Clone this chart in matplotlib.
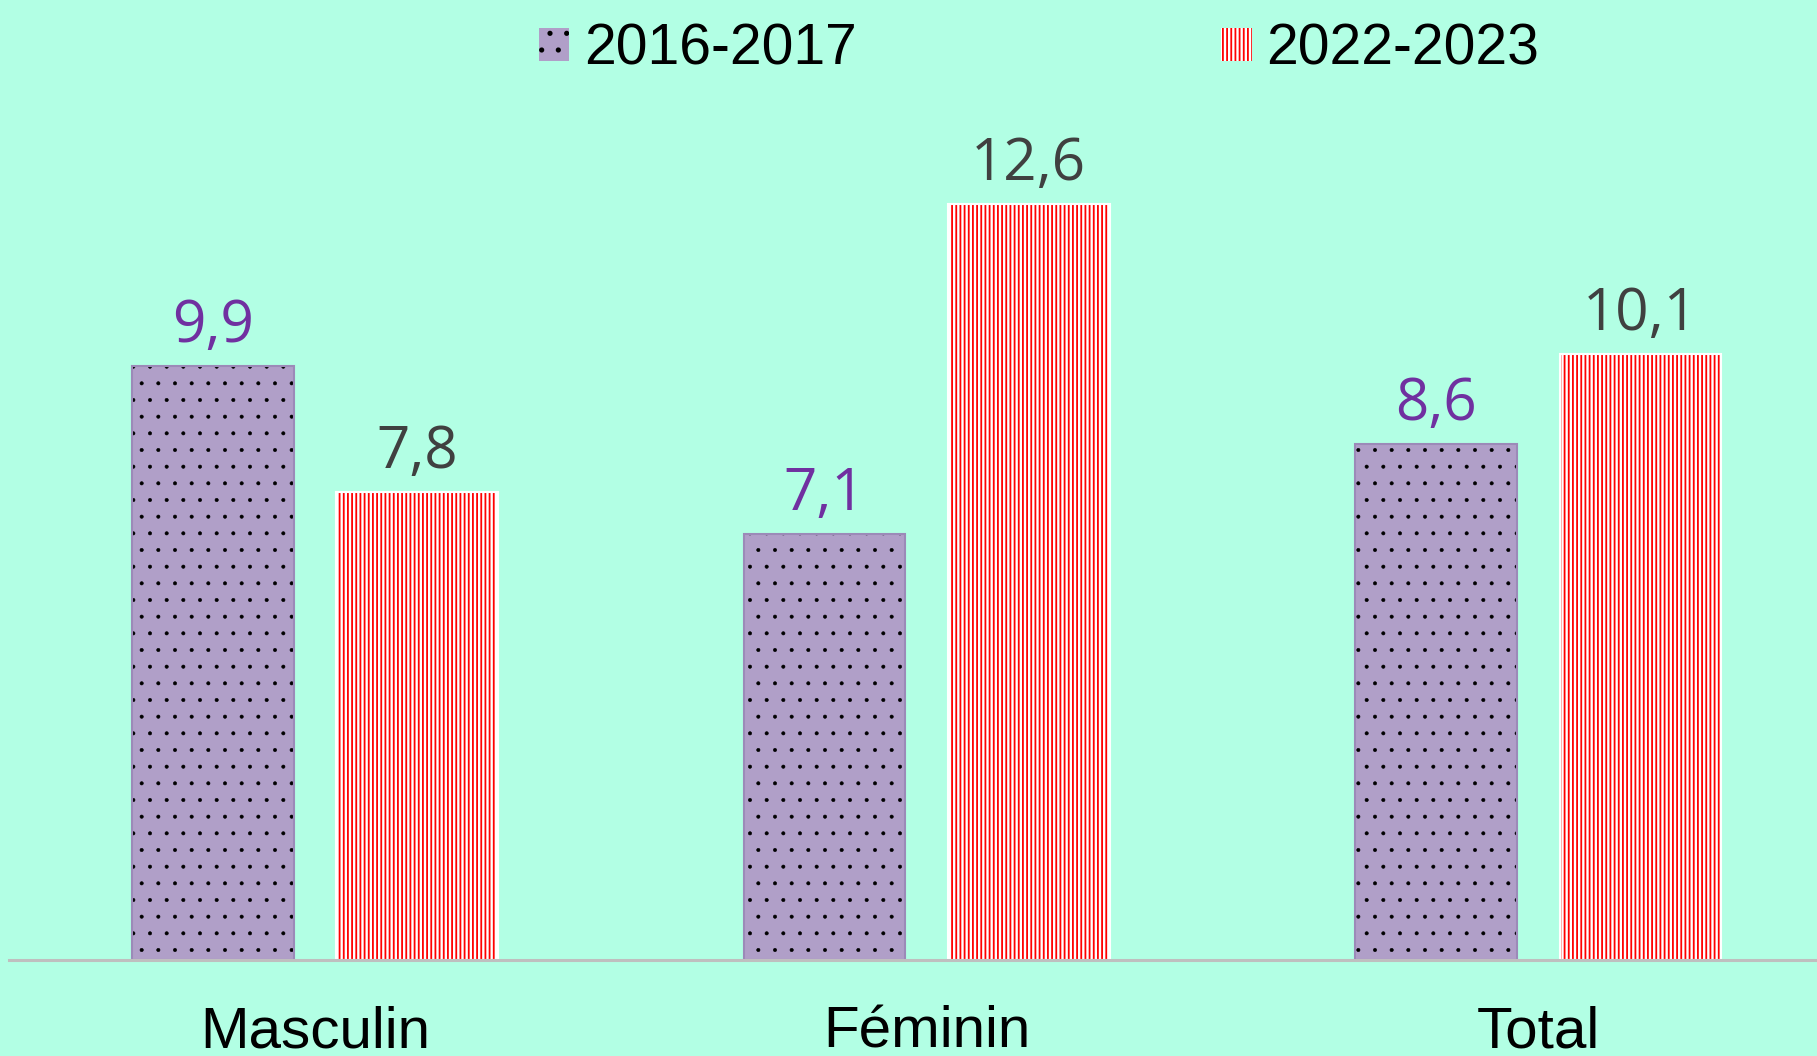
import numpy as np
import matplotlib
matplotlib.use("Agg")
import matplotlib.pyplot as plt
from matplotlib.patches import Patch

# data
categories = ["Masculin", "Féminin", "Total"]
series_names = ["2016-2017", "2022-2023"]
values_2016 = [9.9, 7.1, 8.6]
values_2022 = [7.8, 12.6, 10.1]
labels_2016 = ["9,9", "7,1", "8,6"]
labels_2022 = ["7,8", "12,6", "10,1"]

bg = "#B2FFE4"
purple_face = "#B09FC8"
label_purple = "#7030A0"
label_grey = "#404040"


def hatch_lw(artists, lw):
    # per-artist hatch width where the matplotlib version allows it
    for a in artists:
        if hasattr(a, "set_hatch_linewidth"):
            a.set_hatch_linewidth(lw)


plt.rcParams["hatch.linewidth"] = 1.3

fig = plt.figure(figsize=(18.17, 10.56), dpi=100, facecolor=bg)
ax = fig.add_axes([0.005, 0.0909, 1.01, 0.9091])
ax.set_facecolor(bg)

x = np.arange(len(categories))
w = 0.264
off = 0.167

# 2016-2017 : lavender with black dots
b1 = ax.bar(x - off, values_2016, w, color=purple_face, edgecolor="black",
            hatch=".", linewidth=0, zorder=2)
hatch_lw(b1, 0.4)
ax.bar(x - off, values_2016, w, fill=False, edgecolor="#9C8AB8",
       linewidth=1.5, zorder=3)

# 2022-2023 : red vertical stripes on white
b2 = ax.bar(x + off, values_2022, w, color="white", edgecolor="#FF0000",
            hatch="||||", linewidth=0, zorder=2)
hatch_lw(b2, 1.3)
ax.bar(x + off, values_2022, w, fill=False, edgecolor="white",
       linewidth=1.5, zorder=3)

# value labels
for xi, v, s in zip(x - off, values_2016, labels_2016):
    ax.annotate(s, (xi, v), xytext=(0, 17), textcoords="offset points",
                ha="center", va="baseline", fontsize=42, color=label_purple,
                family="Open Sans")
for xi, v, s in zip(x + off, values_2022, labels_2022):
    ax.annotate(s, (xi, v), xytext=(0, 17), textcoords="offset points",
                ha="center", va="baseline", fontsize=42, color=label_grey,
                family="Open Sans")

ax.set_xlim(-0.5, 2.5)
ax.set_ylim(0, 16)
for sp in ["top", "right", "left"]:
    ax.spines[sp].set_visible(False)
ax.spines["bottom"].set_color("#BFBFBF")
ax.spines["bottom"].set_linewidth(2.2)
ax.spines["bottom"].set_zorder(4)
ax.set_yticks([])
ax.set_xticks(x)
ax.set_xticklabels(categories, fontsize=42, family="Liberation Sans")
ax.tick_params(axis="x", length=0, pad=33)

h1 = Patch(facecolor=purple_face, edgecolor="black", hatch=".", linewidth=0)
h2 = Patch(facecolor="white", edgecolor="#FF0000", hatch="||||", linewidth=0)
hatch_lw([h1], 0.4)
leg = fig.legend([h1, h2], series_names, loc="center",
                 bbox_to_anchor=(0.572, 0.953), ncol=2, frameon=False,
                 prop={"family": "Liberation Sans", "size": 41},
                 handlelength=0.53, handleheight=0.53, handletextpad=0.26,
                 columnspacing=6.4)

fig.savefig("out.png", dpi=100, facecolor=bg)
